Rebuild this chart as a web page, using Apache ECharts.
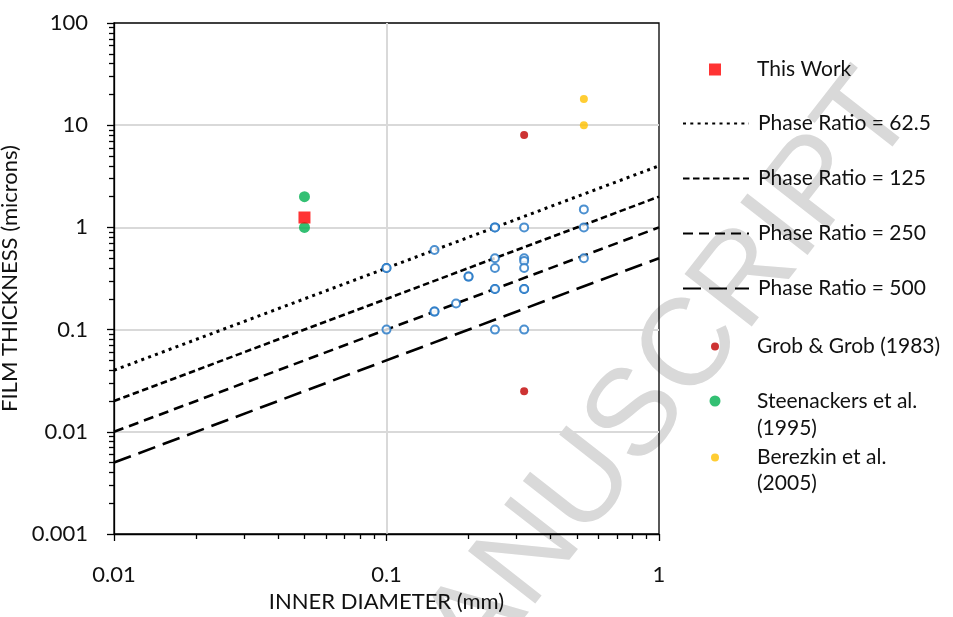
<!DOCTYPE html>
<html>
<head>
<meta charset="utf-8">
<script src="https://cdn.jsdelivr.net/npm/echarts@6/dist/echarts.min.js"></script>
<style>
html,body{margin:0;padding:0;background:#fff;}
#chart{width:953px;height:617px;}
</style>
</head>
<body>
<div id="chart"></div>
<script>
// ---- data ----
const xTickLabels = ['0.01', '0.1', '1'];
const yTickLabels = ['0.001', '0.01', '0.1', '1', '10', '100'];
const xDecades = [0.01, 0.1, 1];
const yDecades = [0.001, 0.01, 0.1, 1, 10, 100];

// literature columns (open blue circles)
const blueX = [0.1, 0.1, 0.1, 0.15, 0.15, 0.15, 0.18, 0.2, 0.2, 0.25, 0.25, 0.25, 0.25, 0.25, 0.25, 0.25, 0.32, 0.32, 0.32, 0.32, 0.32, 0.32, 0.32, 0.53, 0.53, 0.53];
const blueY = [0.4, 0.4, 0.1, 0.6, 0.15, 0.15, 0.18, 0.33, 0.33, 1, 1, 0.5, 0.4, 0.25, 0.25, 0.1, 1, 0.5, 0.47, 0.4, 0.25, 0.25, 0.1, 1.5, 1, 0.5];

const thisWorkX = [0.05];
const thisWorkY = [1.25];
const grobX = [0.32, 0.32];
const grobY = [8, 0.025];
const steenX = [0.05, 0.05];
const steenY = [2, 1];
const berezX = [0.53, 0.53];
const berezY = [18, 10];

const lineX = [0.01, 1];
const pr62Y = [0.04, 4];
const pr125Y = [0.02, 2];
const pr250Y = [0.01, 1];
const pr500Y = [0.005, 0.5];

// ---- helpers ----
const zip = (xs, ys) => xs.map((x, i) => [x, ys[i]]);
const minorOf = (decs) => {
  const out = [];
  for (let i = 0; i < decs.length - 1; i++) {
    for (let m = 2; m <= 9; m++) out.push(+(decs[i] * m).toPrecision(6));
  }
  return out;
};
const FONT = 'Lato';
const TXT = '#111';
const TEXT_X = 757;
const ICON_CX = 715;
const LEG_SHIFT = -3;

const chart = echarts.init(document.getElementById('chart'), null, {renderer: 'canvas'});

const lineSeries = (name, ys, dash, w) => ({
  name: name, type: 'line', data: zip(lineX, ys), symbol: 'none', silent: true,
  itemStyle: {color: '#000'},
  lineStyle: {color: '#000', width: w || 2.6, type: dash},
  z: 3
});

const lineLegend = (name, cy) => ({
  data: [name], left: 682, top: cy - 7 + LEG_SHIFT, padding: 0,
  itemWidth: 66, itemHeight: 14, selectedMode: false,
  itemStyle: {opacity: 0, color: 'rgba(0,0,0,0)', borderWidth: 0},
  textStyle: {fontFamily: FONT, fontSize: 21, color: TXT, padding: [0, 0, 0, TEXT_X - 682 - 66 - 5]}
});
const dotLegend = (name, cy, h, fmt) => ({
  data: [name], left: ICON_CX - h / 2, top: cy - h / 2 + LEG_SHIFT, padding: 0,
  itemWidth: h, itemHeight: h, selectedMode: false,
  textStyle: {fontFamily: FONT, fontSize: 21, color: TXT, padding: [0, 0, 0, TEXT_X - (ICON_CX + h / 2) - 5]},
  formatter: fmt || undefined
});

const option = {
  animation: false,
  backgroundColor: '#fff',
  grid: {left: 114, right: 294, top: 23, bottom: 83, show: true, borderColor: '#000', borderWidth: 1.3, containLabel: false, outerBoundsMode: 'none'},
  xAxis: [
    {
      type: 'log', logBase: 10, min: 0.01, max: 1, position: 'bottom',
      name: 'INNER DIAMETER (mm)', nameLocation: 'middle', nameGap: 56,
      nameTextStyle: {fontFamily: FONT, fontSize: 22, color: TXT},
      axisLine: {show: true, lineStyle: {color: '#000', width: 1.3}},
      axisTick: {show: true, inside: false, length: 7, lineStyle: {color: '#000', width: 1.3}},
      axisLabel: {margin: 30, fontFamily: FONT, fontSize: 22, color: TXT,
        formatter: (v) => { const i = xDecades.findIndex(d => Math.abs(Math.log10(d) - Math.log10(v)) < 1e-6); return i >= 0 ? xTickLabels[i] : ''; }},
      splitLine: {show: true, showMinLine: false, showMaxLine: false, lineStyle: {color: '#d9d9d9', width: 2}}
    },
    {
      type: 'log', logBase: 10, min: 0.01, max: 1, position: 'bottom',
      axisLine: {show: false}, axisLabel: {show: false}, splitLine: {show: false},
      axisTick: {show: true, inside: false, length: 5, customValues: minorOf(xDecades), lineStyle: {color: '#000', width: 1.3}}
    }
  ],
  yAxis: [
    {
      type: 'log', logBase: 10, min: 0.001, max: 100, position: 'left',
      name: 'FILM THICKNESS (microns)', nameLocation: 'middle', nameGap: 80, nameRotate: 90,
      nameTextStyle: {fontFamily: FONT, fontSize: 22, color: TXT},
      axisLine: {show: true, lineStyle: {color: '#000', width: 1.3}},
      axisTick: {show: true, inside: false, length: 7, lineStyle: {color: '#000', width: 1.3}},
      axisLabel: {margin: 26, fontFamily: FONT, fontSize: 22, color: TXT,
        formatter: (v) => { const i = yDecades.findIndex(d => Math.abs(Math.log10(d) - Math.log10(v)) < 1e-6); return i >= 0 ? yTickLabels[i] : ''; }},
      splitLine: {show: true, showMinLine: false, showMaxLine: false, lineStyle: {color: '#d9d9d9', width: 2}}
    },
    {
      type: 'log', logBase: 10, min: 0.001, max: 100, position: 'left',
      axisLine: {show: false}, axisLabel: {show: false}, splitLine: {show: false},
      axisTick: {show: true, inside: false, length: 5, customValues: minorOf(yDecades), lineStyle: {color: '#000', width: 1.3}}
    }
  ],
  legend: [
    dotLegend('This Work', 68, 12),
    lineLegend('Phase Ratio = 62.5', 123),
    lineLegend('Phase Ratio = 125', 178),
    lineLegend('Phase Ratio = 250', 233),
    lineLegend('Phase Ratio = 500', 288),
    dotLegend('Grob & Grob (1983)', 343, 8),
    dotLegend('Steenackers et al. (1995)', 399, 11, () => 'Steenackers et al.'),
    dotLegend('Berezkin et al. (2005)', 454, 8, () => 'Berezkin et al.')
  ],
  graphic: [
    {type: 'text', left: TEXT_X, top: 418, silent: true,
      style: {text: '(1995)', fontFamily: FONT, fontSize: 21, fill: TXT}},
    {type: 'text', left: TEXT_X, top: 473, silent: true,
      style: {text: '(2005)', fontFamily: FONT, fontSize: 21, fill: TXT}},
    {type: 'text', x: 640, y: 414, rotation: 52 * Math.PI / 180, z: -10, zlevel: 0, silent: true,
      style: {text: 'MANUSCRIPT', fontFamily: 'Liberation Sans', fontSize: 124, fill: '#d9d9d9', align: 'center', verticalAlign: 'middle'}}
  ],
  series: [
    lineSeries('Phase Ratio = 62.5', pr62Y, [3, 4.3], 3),
    lineSeries('Phase Ratio = 125', pr125Y, [6.5, 3.5]),
    lineSeries('Phase Ratio = 250', pr250Y, [10, 6]),
    lineSeries('Phase Ratio = 500', pr500Y, [18, 8]),
    {
      name: 'Literature', type: 'scatter', data: zip(blueX, blueY),
      symbol: 'emptyCircle', symbolSize: 8,
      itemStyle: {color: '#1f74c4', borderColor: '#1f74c4', borderWidth: 1.8}, z: 4
    },
    {
      name: 'Grob & Grob (1983)', type: 'scatter', data: zip(grobX, grobY),
      symbol: 'circle', symbolSize: 8, itemStyle: {color: '#c00000'}, z: 5
    },
    {
      name: 'Steenackers et al. (1995)', type: 'scatter', data: zip(steenX, steenY),
      symbol: 'circle', symbolSize: 11, itemStyle: {color: '#00b050'}, z: 5
    },
    {
      name: 'Berezkin et al. (2005)', type: 'scatter', data: zip(berezX, berezY),
      symbol: 'circle', symbolSize: 8, itemStyle: {color: '#ffc000'}, z: 5
    },
    {
      name: 'This Work', type: 'scatter', data: zip(thisWorkX, thisWorkY),
      symbol: 'rect', symbolSize: 12, itemStyle: {color: '#ff0000'}, z: 6
    }
  ]
};
chart.setOption(option);
</script>
</body>
</html>
